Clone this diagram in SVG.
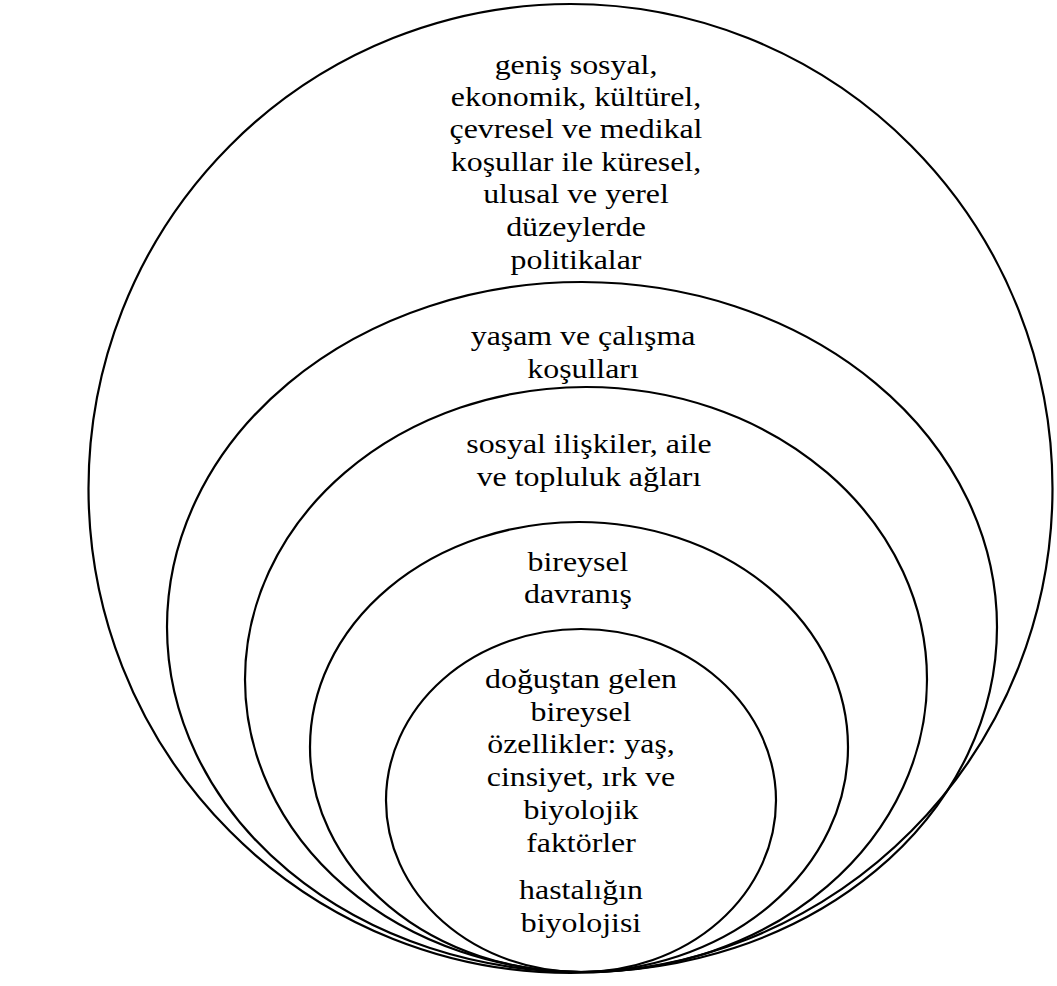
<svg xmlns="http://www.w3.org/2000/svg" width="1057" height="986" viewBox="0 0 1057 986">
<style>
.ring{fill:none;stroke:#000;stroke-width:2.2}
.lbl{font-family:"Liberation Serif","Times New Roman",serif;font-size:27px;fill:#000;text-anchor:middle}
</style>
<rect width="1057" height="986" fill="#fff"/>
<g id="ring1"><ellipse class="ring" cx="570.5" cy="488.5" rx="482" ry="484.5"/></g>
<g id="ring2"><ellipse class="ring" cx="582" cy="627" rx="415" ry="345"/></g>
<g id="ring3"><ellipse class="ring" cx="586" cy="679.5" rx="341" ry="292.5"/></g>
<g id="ring4"><ellipse class="ring" cx="579" cy="747" rx="269" ry="225"/></g>
<g id="ring5"><ellipse class="ring" cx="581" cy="800.5" rx="195" ry="171.5"/></g>
<g id="label1" transform="translate(576 0) scale(1.18 1)">
<text class="lbl" x="0" y="74">geniş sosyal,</text>
<text class="lbl" x="0" y="106">ekonomik, kültürel,</text>
<text class="lbl" x="0" y="138.5">çevresel ve medikal</text>
<text class="lbl" x="0" y="171">koşullar ile küresel,</text>
<text class="lbl" x="0" y="203.5">ulusal ve yerel</text>
<text class="lbl" x="0" y="236">düzeylerde</text>
<text class="lbl" x="0" y="269">politikalar</text>
</g>
<g id="label2" transform="translate(583 0) scale(1.18 1)">
<text class="lbl" x="0" y="345.5">yaşam ve çalışma</text>
<text class="lbl" x="0" y="378">koşulları</text>
</g>
<g id="label3" transform="translate(589 0) scale(1.18 1)">
<text class="lbl" x="0" y="453">sosyal ilişkiler, aile</text>
<text class="lbl" x="0" y="486">ve topluluk ağları</text>
</g>
<g id="label4" transform="translate(578 0) scale(1.18 1)">
<text class="lbl" x="0" y="571">bireysel</text>
<text class="lbl" x="0" y="603.5">davranış</text>
</g>
<g id="label5" transform="translate(581 0) scale(1.18 1)">
<text class="lbl" x="0" y="688.5">doğuştan gelen</text>
<text class="lbl" x="0" y="721">bireysel</text>
<text class="lbl" x="0" y="753.5">özellikler: yaş,</text>
<text class="lbl" x="0" y="786.5">cinsiyet, ırk ve</text>
<text class="lbl" x="0" y="819.5">biyolojik</text>
<text class="lbl" x="0" y="852.5">faktörler</text>
<text class="lbl" x="0" y="899">hastalığın</text>
<text class="lbl" x="0" y="932.5">biyolojisi</text>
</g>
</svg>
